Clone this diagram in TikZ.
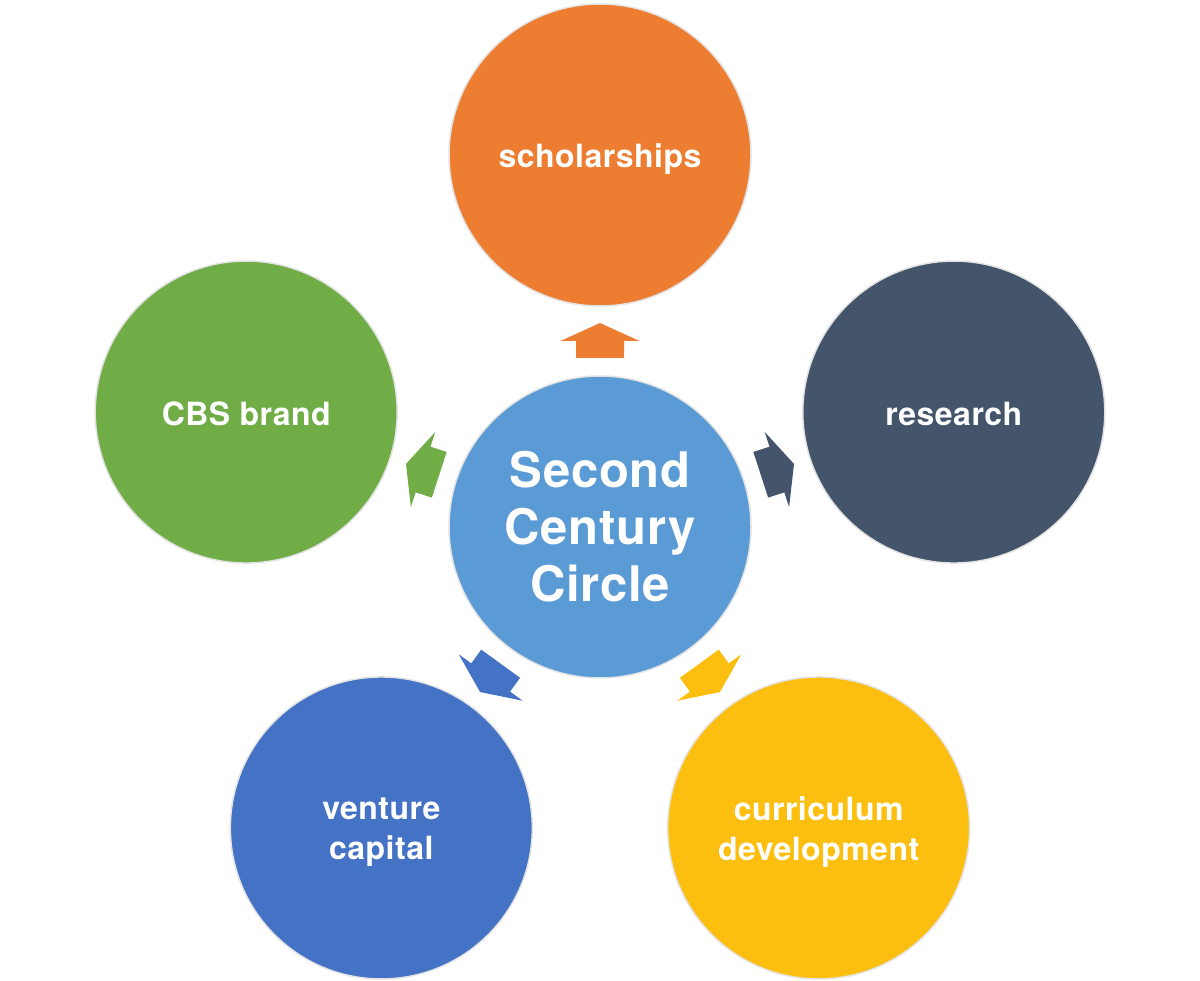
\documentclass[tikz,border=0pt]{standalone}
\usepackage{fontspec}
\setmainfont{TeX Gyre Heros}[LetterSpace=1.5]
\usetikzlibrary{calc}
\definecolor{cOrange}{HTML}{ED7D31}
\definecolor{cSlate}{HTML}{44546A}
\definecolor{cGreen}{HTML}{70AD47}
\definecolor{cBlue}{HTML}{4472C4}
\definecolor{cYellow}{HTML}{FCBF10}
\definecolor{cCenter}{HTML}{5B9BD5}
\tikzset{
  bubble/.style={circle, minimum size=302pt, inner sep=0pt, draw=gray!22, line width=1.5pt,
    text=white, font=\bfseries\fontsize{49}{57}\selectfont, align=center},
  caption/.style={text=white, font=\bfseries\fontsize{32}{40}\selectfont, align=center, inner sep=0pt},
}
\newcommand{\blockarrow}[2]{%
  \fill[#2, shift={(C.center)}, rotate=#1]
    (169,-24) -- (186,-24) -- (186,-39.5) -- (204,0) -- (186,39.5) -- (186,24) -- (169,24) -- cycle;}
\begin{document}
\begin{tikzpicture}[x=1pt,y=1pt]
\useasboundingbox (0,0) rectangle (1200,-981);
\node[bubble, fill=cCenter] (C) at (600,-527) {Second\\Century\\Circle};
\node[bubble, fill=cOrange] (S) at ($(C.center)+(90:372)$) {};
\node[bubble, fill=cSlate] (R) at ($(C.center)+(18:372)$) {};
\node[bubble, fill=cYellow] (D) at ($(C.center)+(-54:372)$) {};
\node[bubble, fill=cBlue] (V) at ($(C.center)+(-126:372)$) {};
\node[bubble, fill=cGreen] (B) at ($(C.center)+(162:372)$) {};
\node[caption] (St) at ([yshift=-4pt]S.center) {scholarships};
\node[caption] (Rt) at ([yshift=-2pt]R.center) {research};
\node[caption] (Dt) at ([yshift=-4pt]D.center) {curriculum\\development};
\node[caption] (Vt) at ([yshift=-4pt]V.center) {venture\\capital};
\node[caption] (Bt) at ([yshift=-2pt]B.center) {CBS brand};
\blockarrow{90}{cOrange}
\blockarrow{18}{cSlate}
\blockarrow{-54}{cYellow}
\blockarrow{-126}{cBlue}
\blockarrow{162}{cGreen}
\end{tikzpicture}
\end{document}
